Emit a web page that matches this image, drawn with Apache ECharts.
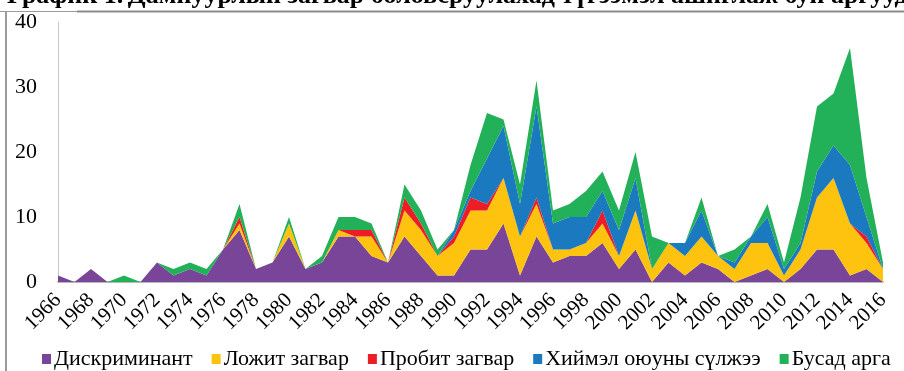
<!DOCTYPE html>
<html>
<head>
<meta charset="utf-8">
<script src="https://cdn.jsdelivr.net/npm/echarts@6/dist/echarts.min.js"></script>
<style>
  html, body { margin: 0; padding: 0; background: #fff; }
  #chart { width: 904px; height: 371px; }
</style>
</head>
<body>
<div id="chart"></div>
<script>
// Years 1966–2016
const years = [];
for (let y = 1966; y <= 2016; y++) years.push(String(y));

// Number of studies per method and year
const discriminant = [1,0,2,0,0,0,3,1,2,1,5,8,2,3,7,2,3,7,7,4,3,7,4,1,1,5,5,9,1,7,3,4,4,6,2,5,0,3,1,3,2,0,1,2,0,2,5,5,1,2,0];
const logit        = [0,0,0,0,0,0,0,0,0,0,0,1,0,0,2,0,0,1,0,3,0,4,4,3,5,6,6,7,6,5,2,1,2,3,2,6,2,3,3,4,2,2,5,4,1,3,8,11,8,4,2];
const probit       = [0,0,0,0,0,0,0,0,0,0,0,1,0,0,0,0,0,0,1,1,0,2,1,0,1,2,1,0,0,1,0,0,0,2,0,0,0,0,0,0,0,0,0,0,0,0,0,0,0,1,0];
const neural       = [0,0,0,0,0,0,0,0,0,0,0,0,0,0,0,0,0,0,0,0,0,0,0,0,1,1,7,8,5,14,4,5,4,3,4,5,0,0,2,4,0,1,1,4,1,1,4,5,9,3,0];
const other        = [0,0,0,0,1,0,0,1,1,1,0,2,0,0,1,0,1,2,2,1,0,2,2,1,0,4,7,1,3,4,2,2,4,3,3,4,5,0,0,2,0,2,0,2,1,7,10,8,18,6,1];

const seriesNames  = ['Дискриминант', 'Ложит загвар', 'Пробит загвар', 'Хиймэл оюуны сүлжээ', 'Бусад арга'];
const seriesData   = [discriminant, logit, probit, neural, other];
const seriesColors = ['#784598', '#FEC30F', '#EC1D25', '#1B79C0', '#22B158'];

const serif = 'Liberation Serif';

const chart = echarts.init(document.getElementById('chart'), null, { renderer: 'canvas' });

chart.setOption({
  animation: false,
  backgroundColor: '#fff',
  textStyle: { fontFamily: serif },
  title: {
    text: '{b|График 1.} {n|Дампуурлын загвар боловсруулахад түгээмэл ашиглаж буй аргууд}',
    left: 2,
    top: -22,
    textStyle: {
      fontFamily: serif,
      rich: {
        b: { fontFamily: serif, fontSize: 26, fontWeight: 'bold', color: '#000' },
        n: { fontFamily: serif, fontSize: 26, color: '#000' }
      }
    }
  },
  graphic: [
    { type: 'line', shape: { x1: 0, y1: 11.5, x2: 77, y2: 11.5 }, style: { stroke: '#9a9a9a', lineWidth: 1 } },
    { type: 'line', shape: { x1: 77, y1: 11.5, x2: 904, y2: 11.5 }, style: { stroke: '#8c8c8c', lineWidth: 2 } },
    { type: 'line', shape: { x1: 6, y1: 11, x2: 6, y2: 371 }, style: { stroke: '#9a9a9a', lineWidth: 2 } }
  ],
  grid: { left: 58, right: 21, top: 22, bottom: 89 },
  legend: {
    bottom: 1,
    left: 42,
    right: 0,
    padding: 0,
    icon: 'rect',
    itemWidth: 9,
    itemHeight: 10,
    itemGap: 19,
    textStyle: { fontFamily: serif, fontSize: 22, color: '#000', padding: [0, 0, 0, -2] },
    data: seriesNames
  },
  xAxis: {
    type: 'category',
    boundaryGap: false,
    data: years,
    axisLine: { lineStyle: { color: '#a0a0a0', width: 1.5 } },
    axisTick: { show: false },
    axisLabel: {
      interval: 1,
      rotate: 45,
      margin: 15,
      fontFamily: serif,
      fontSize: 21,
      color: '#000'
    }
  },
  yAxis: {
    type: 'value',
    min: 0,
    max: 40,
    interval: 10,
    axisLine: { show: true, lineStyle: { color: '#c8c8c8', width: 1 } },
    axisTick: { show: false },
    splitLine: { show: false },
    axisLabel: { margin: 21, fontFamily: serif, fontSize: 22, color: '#000' }
  },
  series: seriesNames.map((name, i) => ({
    name,
    type: 'line',
    stack: 'total',
    data: seriesData[i],
    symbol: 'none',
    smooth: false,
    color: seriesColors[i],
    lineStyle: { width: 0 },
    areaStyle: { color: seriesColors[i], opacity: 1 }
  }))
});
</script>
</body>
</html>
